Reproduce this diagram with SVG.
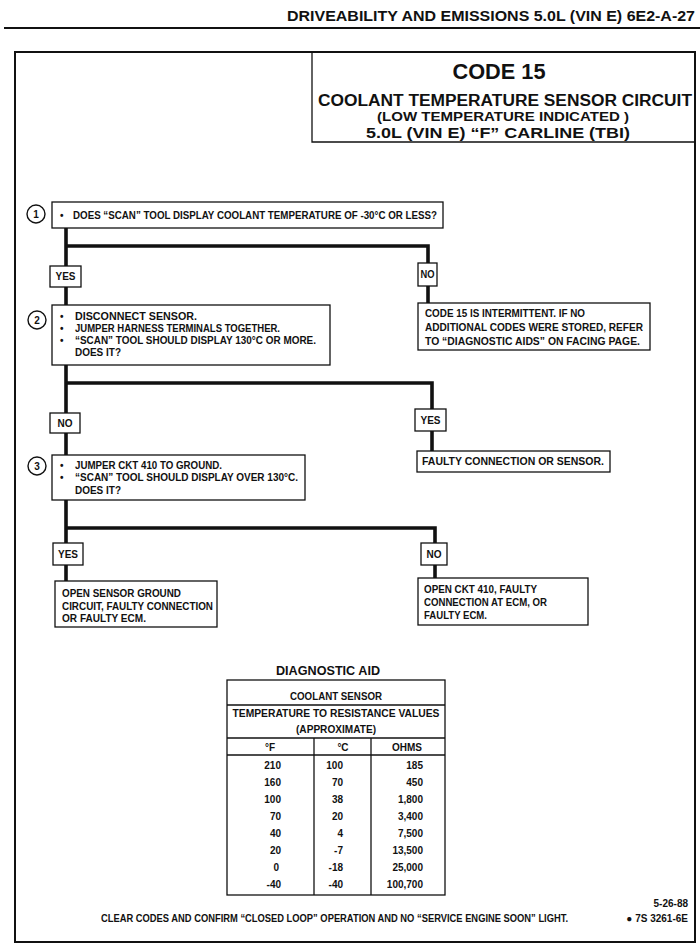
<svg xmlns="http://www.w3.org/2000/svg" width="700" height="949" viewBox="0 0 700 949">
<style>
text{font-family:"Liberation Sans",Arial,sans-serif;font-weight:bold;fill:#111}
.t{font-size:10px}
.c{text-anchor:middle}
.r{text-anchor:end}
.box{fill:#fff;stroke:#111;stroke-width:1.3}
.ln{fill:none;stroke:#111;stroke-width:1.3}
.con{fill:none;stroke:#111;stroke-width:3.6;stroke-linecap:square}
.circ{fill:#fff;stroke:#111;stroke-width:1.4}
</style>
<rect width="700" height="949" fill="#fff"/>
<g id="header">
<text x="695" y="21" class="r" font-size="15.5" textLength="408" lengthAdjust="spacingAndGlyphs">DRIVEABILITY AND EMISSIONS  5.0L  (VIN E)  6E2-A-27</text>
<line x1="4" y1="28" x2="700" y2="28" stroke="#111" stroke-width="2"/>
</g>
<rect id="frame" x="15" y="52" width="680" height="890" fill="none" stroke="#111" stroke-width="2"/>
<g id="title">
<path class="ln" d="M312,52 V142 H695"/>
<text x="499" y="79" class="c" font-size="22" textLength="93" lengthAdjust="spacingAndGlyphs">CODE 15</text>
<text x="505" y="106" class="c" font-size="16" textLength="374" lengthAdjust="spacingAndGlyphs">COOLANT TEMPERATURE SENSOR CIRCUIT</text>
<text x="503" y="121" class="c" font-size="12.5" textLength="252" lengthAdjust="spacingAndGlyphs">(LOW TEMPERATURE INDICATED )</text>
<text x="498" y="138" class="c" font-size="15.5" textLength="264" lengthAdjust="spacingAndGlyphs">5.0L  (VIN E)  “F”  CARLINE  (TBI)</text>
</g>
<g id="connectors">
<path class="con" d="M66,228 V266 M66,246 H428 V263"/>
<path class="con" d="M66,287 V305"/>
<path class="con" d="M428,286 V303"/>
<path class="con" d="M66,365 V413 M66,383 H432 V409"/>
<path class="con" d="M66,433 V455"/>
<path class="con" d="M432,431 V451"/>
<path class="con" d="M66,500 V543 M66,528 H435 V543"/>
<path class="con" d="M66,565 V581"/>
<path class="con" d="M435,565 V578"/>
</g>
<g id="step1">
<circle class="circ" cx="36" cy="214" r="9"/>
<text x="36" y="218" class="c t">1</text>
<rect class="box" x="52" y="202" width="391" height="26"/>
<text x="60" y="219" class="t">•</text>
<text x="73" y="219" class="t" textLength="364" lengthAdjust="spacingAndGlyphs">DOES “SCAN” TOOL DISPLAY COOLANT TEMPERATURE OF -30°C OR LESS?</text>
</g>
<g id="yes1">
<rect class="box" x="50" y="266" width="31" height="21"/>
<text x="65.5" y="280" class="c t">YES</text>
</g>
<g id="no1">
<rect class="box" x="418" y="263" width="19" height="23"/>
<text x="427.5" y="278" class="c t" textLength="14" lengthAdjust="spacingAndGlyphs">NO</text>
</g>
<g id="intermittent">
<rect class="box" x="418" y="303" width="232" height="47"/>
<text x="425" y="317" class="t" textLength="160" lengthAdjust="spacingAndGlyphs">CODE 15 IS INTERMITTENT.  IF NO</text>
<text x="425" y="331" class="t" textLength="218" lengthAdjust="spacingAndGlyphs">ADDITIONAL CODES WERE STORED, REFER</text>
<text x="425" y="345" class="t" textLength="215" lengthAdjust="spacingAndGlyphs">TO “DIAGNOSTIC AIDS” ON FACING PAGE.</text>
</g>
<g id="step2">
<circle class="circ" cx="37" cy="320" r="9"/>
<text x="37" y="324" class="c t">2</text>
<rect class="box" x="52" y="305" width="278" height="60"/>
<text x="60" y="320" class="t">•</text>
<text x="75" y="320" class="t" textLength="122" lengthAdjust="spacingAndGlyphs">DISCONNECT SENSOR.</text>
<text x="60" y="332" class="t">•</text>
<text x="75" y="332" class="t" textLength="205" lengthAdjust="spacingAndGlyphs">JUMPER HARNESS TERMINALS TOGETHER.</text>
<text x="60" y="344" class="t">•</text>
<text x="75" y="344" class="t" textLength="241" lengthAdjust="spacingAndGlyphs">“SCAN” TOOL SHOULD DISPLAY 130°C OR MORE.</text>
<text x="75" y="356" class="t" textLength="46" lengthAdjust="spacingAndGlyphs">DOES IT?</text>
</g>
<g id="no2">
<rect class="box" x="50" y="413" width="30" height="20"/>
<text x="65" y="427" class="c t">NO</text>
</g>
<g id="yes2">
<rect class="box" x="415" y="409" width="31" height="22"/>
<text x="430.5" y="424" class="c t">YES</text>
</g>
<g id="faulty">
<rect class="box" x="417" y="451" width="193" height="21"/>
<text x="422" y="465" class="t" textLength="182" lengthAdjust="spacingAndGlyphs">FAULTY CONNECTION OR SENSOR.</text>
</g>
<g id="step3">
<circle class="circ" cx="37" cy="466" r="9"/>
<text x="37" y="470" class="c t">3</text>
<rect class="box" x="52" y="455" width="253" height="45"/>
<text x="60" y="469" class="t">•</text>
<text x="75" y="469" class="t" textLength="147" lengthAdjust="spacingAndGlyphs">JUMPER CKT 410 TO GROUND.</text>
<text x="60" y="481" class="t">•</text>
<text x="75" y="481" class="t" textLength="223" lengthAdjust="spacingAndGlyphs">“SCAN” TOOL SHOULD DISPLAY OVER 130°C.</text>
<text x="75" y="494" class="t" textLength="46" lengthAdjust="spacingAndGlyphs">DOES IT?</text>
</g>
<g id="yes3">
<rect class="box" x="53" y="543" width="30" height="22"/>
<text x="68" y="558" class="c t">YES</text>
</g>
<g id="no3">
<rect class="box" x="421" y="543" width="26" height="22"/>
<text x="434" y="558" class="c t">NO</text>
</g>
<g id="openground">
<rect class="box" x="55" y="581" width="162" height="46"/>
<text x="62" y="597" class="t" textLength="119" lengthAdjust="spacingAndGlyphs">OPEN SENSOR GROUND</text>
<text x="62" y="610" class="t" textLength="151" lengthAdjust="spacingAndGlyphs">CIRCUIT, FAULTY CONNECTION</text>
<text x="62" y="622" class="t" textLength="84" lengthAdjust="spacingAndGlyphs">OR FAULTY ECM.</text>
</g>
<g id="opencircuit">
<rect class="box" x="418" y="578" width="170" height="47"/>
<text x="424" y="593" class="t" textLength="113" lengthAdjust="spacingAndGlyphs">OPEN CKT  410, FAULTY</text>
<text x="424" y="606" class="t" textLength="123" lengthAdjust="spacingAndGlyphs">CONNECTION AT ECM, OR</text>
<text x="424" y="619" class="t" textLength="63" lengthAdjust="spacingAndGlyphs">FAULTY ECM.</text>
</g>
<g id="diagnostic-aid">
<text x="328" y="675" class="c" font-size="13.5" textLength="104" lengthAdjust="spacingAndGlyphs">DIAGNOSTIC AID</text>
<rect class="ln" x="227" y="680" width="218" height="215"/>
<line class="ln" x1="227" y1="705" x2="445" y2="705"/>
<line class="ln" x1="227" y1="738" x2="445" y2="738"/>
<line class="ln" x1="227" y1="755" x2="445" y2="755"/>
<line class="ln" x1="314" y1="738" x2="314" y2="895"/>
<line class="ln" x1="371" y1="738" x2="371" y2="895"/>
<text x="336" y="700" class="c t" textLength="92" lengthAdjust="spacingAndGlyphs">COOLANT SENSOR</text>
<text x="336" y="717" class="c t" textLength="207" lengthAdjust="spacingAndGlyphs">TEMPERATURE TO RESISTANCE VALUES</text>
<text x="336" y="733" class="c t" textLength="80" lengthAdjust="spacingAndGlyphs">(APPROXIMATE)</text>
<text x="270" y="751" class="c t">°F</text>
<text x="343" y="751" class="c t">°C</text>
<text x="407" y="751" class="c t">OHMS</text>
<g class="t">
<text x="281" y="769" class="r t">210</text><text x="343" y="769" class="r t">100</text><text x="423" y="769" class="r t">185</text>
<text x="281" y="786" class="r t">160</text><text x="343" y="786" class="r t">70</text><text x="423" y="786" class="r t">450</text>
<text x="281" y="803" class="r t">100</text><text x="343" y="803" class="r t">38</text><text x="423" y="803" class="r t">1,800</text>
<text x="281" y="820" class="r t">70</text><text x="343" y="820" class="r t">20</text><text x="423" y="820" class="r t">3,400</text>
<text x="281" y="837" class="r t">40</text><text x="343" y="837" class="r t">4</text><text x="423" y="837" class="r t">7,500</text>
<text x="281" y="854" class="r t">20</text><text x="343" y="854" class="r t">-7</text><text x="423" y="854" class="r t">13,500</text>
<text x="279" y="871" class="r t">0</text><text x="343" y="871" class="r t">-18</text><text x="423" y="871" class="r t">25,000</text>
<text x="281" y="888" class="r t">-40</text><text x="343" y="888" class="r t">-40</text><text x="423" y="888" class="r t">100,700</text>
</g>
</g>
<g id="footer">
<text x="688" y="907" class="r t">5-26-88</text>
<text x="101" y="922" class="t" textLength="467" lengthAdjust="spacingAndGlyphs">CLEAR CODES AND CONFIRM “CLOSED LOOP”  OPERATION AND NO “SERVICE ENGINE SOON” LIGHT.</text>
<text x="688" y="922" class="r t">● 7S 3261-6E</text>
</g>
</svg>
